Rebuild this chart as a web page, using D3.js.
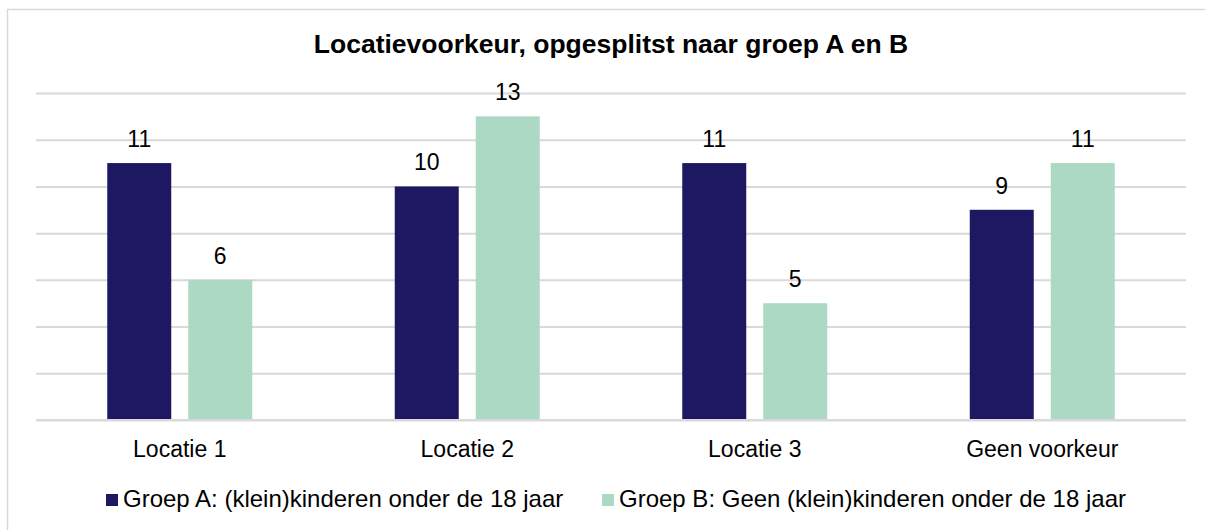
<!DOCTYPE html>
<html>
<head>
<meta charset="utf-8">
<script src="https://cdn.jsdelivr.net/npm/d3@7"></script>
<style>
body { margin: 0; background: #fff; }
svg text { font-family: "Liberation Sans", Arial, sans-serif; fill: #000; }
</style>
</head>
<body>
<div id="viz"></div>
<script>
// data
var categories = ["Locatie 1", "Locatie 2", "Locatie 3", "Geen voorkeur"];
var seriesNames = ["Groep A: (klein)kinderen onder de 18 jaar", "Groep B: Geen (klein)kinderen onder de 18 jaar"];
var groepA = [11, 10, 11, 9];
var groepB = [6, 13, 5, 11];
var yTicks = [0, 2, 4, 6, 8, 10, 12, 14];

var COLORS = ["#1e1762", "#acd9c3"];
var WIDTH = 1205, HEIGHT = 530;
var PLOT_LEFT = 36, PLOT_RIGHT = 1186, PLOT_TOP = 93, PLOT_BOTTOM = 420;
var FONT_SIZE = 23;

var svg = d3.select("#viz").append("svg")
	.attr("width", WIDTH)
	.attr("height", HEIGHT);

// chart frame
svg.append("path")
	.attr("d", "M 7.5 " + HEIGHT + " L 7.5 9.5 L " + WIDTH + " 9.5")
	.attr("stroke", "#d9d9d9")
	.attr("stroke-width", 1.5)
	.attr("fill", "none");

var x0 = d3.scaleBand()
	.domain(categories)
	.range([PLOT_LEFT, PLOT_RIGHT]);

var x1 = d3.scaleBand()
	.domain([0, 1])
	.range([-72.5, 72.5])
	.paddingInner(0.21);

var y = d3.scaleLinear()
	.domain([0, 14])
	.range([PLOT_BOTTOM, PLOT_TOP]);

// gridlines
var yAxis = d3.axisLeft(y)
	.tickValues(yTicks)
	.tickSize(-(PLOT_RIGHT - PLOT_LEFT))
	.tickFormat("");

var grid = svg.append("g")
	.attr("transform", "translate(" + PLOT_LEFT + ",0)")
	.call(yAxis);
grid.select(".domain").remove();
grid.selectAll(".tick line")
	.attr("stroke", "#d9d9d9")
	.attr("stroke-width", 2);

// title
svg.append("text")
	.attr("x", 611)
	.attr("y", 53)
	.attr("text-anchor", "middle")
	.attr("font-size", 26.5)
	.attr("font-weight", "bold")
	.text("Locatievoorkeur, opgesplitst naar groep A en B");

var allSeries = [groepA, groepB];

var groups = svg.selectAll("g.cat")
	.data(categories)
	.enter().append("g")
	.attr("class", "cat")
	.attr("transform", function(d) { return "translate(" + (x0(d) + x0.bandwidth() / 2) + ",0)"; });

groups.each(function(cat, ci) {
	var g = d3.select(this);
	allSeries.forEach(function(values, si) {
		var v = values[ci];
		g.append("rect")
			.attr("x", x1(si))
			.attr("y", y(v))
			.attr("width", x1.bandwidth())
			.attr("height", y(0) - y(v))
			.attr("fill", COLORS[si]);

		g.append("text")
			.attr("x", x1(si) + x1.bandwidth() / 2)
			.attr("y", y(v) - 16)
			.attr("text-anchor", "middle")
			.attr("font-size", FONT_SIZE)
			.text(v);
	});
});

// baseline redraw on top of bars
svg.append("line")
	.attr("x1", PLOT_LEFT)
	.attr("x2", PLOT_RIGHT)
	.attr("y1", y(0))
	.attr("y2", y(0))
	.attr("stroke", "#d9d9d9")
	.attr("stroke-width", 2);

// category labels
var xAxis = d3.axisBottom(x0).tickSize(0).tickPadding(0);
var xg = svg.append("g")
	.attr("transform", "translate(0," + y(0) + ")")
	.call(xAxis);
xg.select(".domain").remove();
xg.selectAll("text")
	.attr("dy", null)
	.attr("y", 37)
	.attr("font-size", FONT_SIZE)
	.attr("font-family", "Liberation Sans, Arial, sans-serif")
	.attr("fill", "#000");

// legend
var legendX = [106, 602];
seriesNames.forEach(function(name, i) {
	svg.append("rect")
		.attr("x", legendX[i])
		.attr("y", 494)
		.attr("width", 12)
		.attr("height", 12)
		.attr("fill", COLORS[i]);
	svg.append("text")
		.attr("x", legendX[i] + 17)
		.attr("y", 507)
		.attr("font-size", 24)
		.text(name);
});
</script>
</body>
</html>
